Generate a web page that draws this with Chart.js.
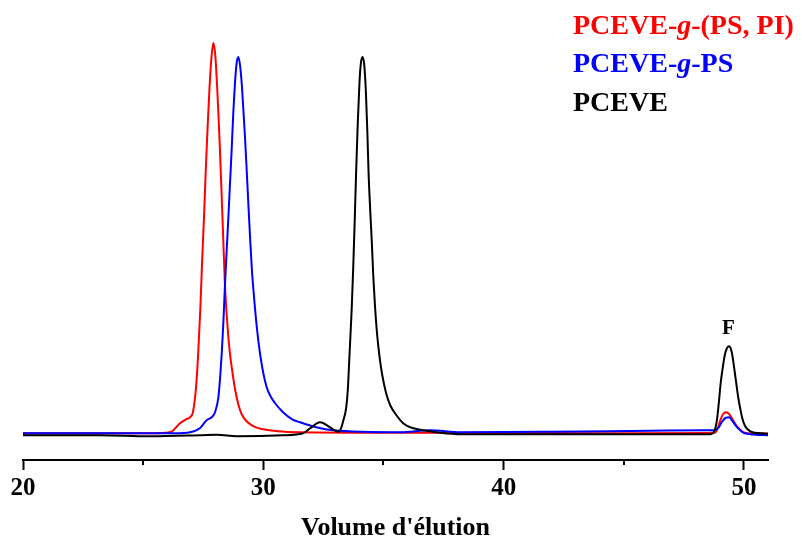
<!DOCTYPE html>
<html>
<head>
<meta charset="utf-8">
<script src="https://cdn.jsdelivr.net/npm/chart.js@4/dist/chart.umd.min.js"></script>
<style>
  body { margin: 0; background: #fff; }
  #wrap { width: 802px; height: 542px; position: relative; }
</style>
</head>
<body>
<div id="wrap"><canvas id="secChart"></canvas></div>
<script>
// elution volume (mL) and detector response
const redX = [20.0, 23.2, 25.28, 25.9, 26.2, 26.53, 26.78, 26.95, 27.07, 27.2, 27.29, 27.38, 27.45, 27.53, 27.6, 27.68, 27.76, 27.84, 27.92, 28.0, 28.07, 28.14, 28.2, 28.27, 28.33, 28.4, 28.5, 28.6, 28.72, 28.84, 28.97, 29.1, 29.3, 29.6, 30.0, 30.6, 31.5, 35.7, 39.86, 44.03, 48.49, 48.7, 48.82, 48.92, 49.03, 49.13, 49.24, 49.35, 49.5, 49.65, 49.78, 49.95, 50.15, 51.03];
const redY = [0, 0, 0, 0.5, 2, 10, 14, 16, 21, 46, 80, 125, 170, 215, 260, 305, 345, 375, 390, 378, 350, 315, 280, 235, 196, 150, 110, 82, 60, 42, 28, 19, 12, 7, 4, 2, 1, 0.5, 0.3, 0, 0.3, 0.5, 1, 6, 14, 19, 21, 20, 15, 9, 5, 1.5, 0, -0.3];

const blueX = [20.0, 23.2, 26.32, 26.95, 27.36, 27.64, 27.85, 27.99, 28.13, 28.2, 28.27, 28.34, 28.4, 28.47, 28.54, 28.61, 28.68, 28.75, 28.82, 28.89, 28.96, 29.03, 29.1, 29.17, 29.24, 29.31, 29.38, 29.45, 29.52, 29.6, 29.72, 29.86, 30.0, 30.14, 30.3, 30.49, 30.82, 31.2, 31.53, 32.2, 32.9, 35.7, 36.95, 38.2, 41.95, 46.11, 48.49, 48.82, 48.95, 49.1, 49.25, 49.38, 49.5, 49.65, 49.8, 49.95, 50.28, 51.03];
const blueY = [0, 0, 0, 1, 5, 13, 16, 21, 36, 55, 80, 112, 146, 180, 213, 248, 282, 320, 350, 370, 376, 368, 350, 323, 295, 262, 228, 195, 165, 140, 108, 80, 60, 46, 37, 30, 21, 14, 11, 6, 3, 1, 3, 1, 1.5, 2.5, 3, 3, 6, 12, 15.5, 16, 13, 8, 4, 1, -1, -2];

const blackX = [20.0, 23.2, 25.28, 27.36, 28.07, 28.9, 30.82, 31.65, 31.95, 32.36, 32.78, 33.11, 33.25, 33.32, 33.45, 33.52, 33.57, 33.63, 33.68, 33.74, 33.8, 33.86, 33.93, 34.0, 34.06, 34.13, 34.2, 34.27, 34.33, 34.38, 34.45, 34.52, 34.58, 34.65, 34.72, 34.78, 34.86, 34.95, 35.11, 35.28, 35.57, 35.82, 36.11, 36.65, 37.36, 38.2, 44.03, 48.61, 48.74, 48.82, 48.89, 48.96, 49.03, 49.12, 49.2, 49.29, 49.38, 49.46, 49.53, 49.6, 49.68, 49.76, 49.85, 49.93, 50.03, 50.15, 50.36, 51.03];
const blackY = [-2, -2, -3, -2, -1.5, -3, -2, 0, 5, 11, 6, 1.5, 6, 12, 26, 45, 70, 100, 126, 165, 210, 260, 310, 350, 370, 376, 368, 340, 300, 260, 222, 188, 155, 126, 103, 88, 72, 58, 40, 28, 17, 10, 6, 3, 0.5, -1, -1, -1, 1, 6, 16, 32, 50, 66, 78, 85, 87, 84, 76, 64, 50, 36, 24, 15, 8, 4, 1, -0.5];

const seriesLabels = ['PCEVE-g-(PS, PI)', 'PCEVE-g-PS', 'PCEVE'];
const seriesColors = ['#ff0000', '#0000ff', '#000000'];
const majorTicks = [20, 30, 40, 50];
const minorTicks = [25, 35, 45];
const peakLabel = { text: 'F', x: 49.35, y: 99 };

const serif = "'Liberation Serif', 'Times New Roman', serif";

function pts(xs, ys) {
  return xs.map((x, i) => ({ x: x, y: ys[i] }));
}

const overlay = {
  id: 'overlay',
  afterDraw(chart) {
    const c = chart.ctx;
    const xs = chart.scales.x, ys = chart.scales.y;
    c.save();
    // minor ticks
    c.strokeStyle = '#000';
    c.lineWidth = 2;
    minorTicks.forEach(v => {
      const px = Math.round(xs.getPixelForValue(v));
      c.beginPath();
      c.moveTo(px, chart.chartArea.bottom);
      c.lineTo(px, chart.chartArea.bottom + 5);
      c.stroke();
    });
    // peak label
    c.fillStyle = '#000';
    c.font = 'bold 21px ' + serif;
    c.textAlign = 'center';
    c.textBaseline = 'alphabetic';
    c.fillText(peakLabel.text, xs.getPixelForValue(peakLabel.x), ys.getPixelForValue(peakLabel.y));
    // legend as coloured text, 'g' in italic
    c.textAlign = 'left';
    const baselines = [34, 72, 111];
    seriesLabels.forEach((lab, i) => {
      let x = 573;
      c.fillStyle = seriesColors[i];
      lab.split(/(?<=-)(g)(?=-)/).forEach((part, k) => {
        c.font = (k % 2 ? 'italic bold ' : 'bold ') + '28px ' + serif;
        c.fillText(part, x, baselines[i]);
        x += c.measureText(part).width;
      });
    });
    c.restore();
  }
};

new Chart(document.getElementById('secChart'), {
  type: 'line',
  data: {
    datasets: [
      { label: seriesLabels[2], data: pts(blackX, blackY), borderColor: seriesColors[2], order: 0 },
      { label: seriesLabels[1], data: pts(blueX, blueY), borderColor: seriesColors[1], order: 1 },
      { label: seriesLabels[0], data: pts(redX, redY), borderColor: seriesColors[0], order: 2 }
    ]
  },
  options: {
    responsive: true,
    maintainAspectRatio: false,
    animation: false,
    parsing: false,
    elements: {
      point: { radius: 0 },
      line: { borderWidth: 2, cubicInterpolationMode: 'monotone', fill: false }
    },
    layout: { padding: { left: 23, right: 34, top: 20, bottom: 0 } },
    plugins: { legend: { display: false }, tooltip: { enabled: false } },
    scales: {
      x: {
        type: 'linear',
        min: 20,
        max: 51,
        afterFit(scale) { scale.height = 82; },
        afterBuildTicks(scale) { scale.ticks = majorTicks.map(v => ({ value: v })); },
        border: { display: true, color: '#000', width: 2 },
        grid: { drawOnChartArea: false, tickLength: 10, tickWidth: 2, tickColor: '#000' },
        ticks: { color: '#000', font: { family: serif, size: 25, weight: 'bold' }, padding: 4, maxRotation: 0 },
        title: {
          display: true,
          text: "Volume d'élution",
          color: '#000',
          font: { family: serif, size: 26, weight: 'bold', lineHeight: 1 },
          padding: { top: 0, bottom: 1 }
        }
      },
      y: { display: false, min: -26.7, max: 413 }
    }
  },
  plugins: [overlay]
});
</script>
</body>
</html>
